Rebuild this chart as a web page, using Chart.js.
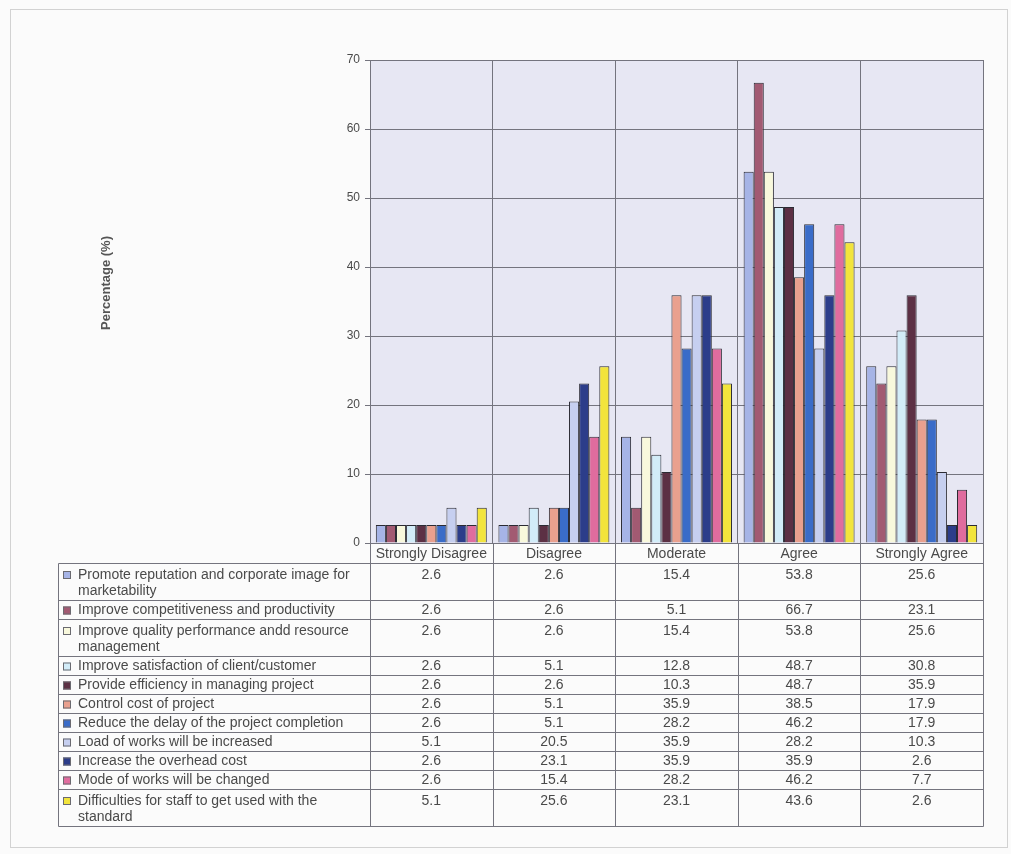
<!DOCTYPE html>
<html>
<head>
<meta charset="utf-8">
<script src="https://cdn.jsdelivr.net/npm/chart.js@4/dist/chart.umd.min.js"></script>
<style>
  html, body { margin: 0; padding: 0; background: #fbfbfb; }
  canvas { display: block; }
</style>
</head>
<body>
<canvas id="c" width="1011" height="854"></canvas>
<script>
// Response categories (x axis / table columns)
const categories = ['Strongly Disagree', 'Disagree', 'Moderate', 'Agree', 'Strongly Agree'];

// Y axis tick range
const yMin = 0, yMax = 70, yStep = 10;

// Statement labels (table rows); "\n" marks the wrapped line
const statementLabels = [
  'Promote reputation and corporate image for\nmarketability',
  'Improve competitiveness and productivity',
  'Improve quality performance andd resource\nmanagement',
  'Improve satisfaction of client/customer',
  'Provide efficiency in managing project',
  'Control cost of project',
  'Reduce the delay of the project completion',
  'Load of works will be increased',
  'Increase the overhead cost',
  'Mode of works will be changed',
  'Difficulties for staff to get used with the\nstandard'
];

// Percentages per statement, in category order
const promoteReputation   = [2.6, 2.6, 15.4, 53.8, 25.6];
const improveCompetitive  = [2.6, 2.6, 5.1, 66.7, 23.1];
const improveQuality      = [2.6, 2.6, 15.4, 53.8, 25.6];
const improveSatisfaction = [2.6, 5.1, 12.8, 48.7, 30.8];
const provideEfficiency   = [2.6, 2.6, 10.3, 48.7, 35.9];
const controlCost         = [2.6, 5.1, 35.9, 38.5, 17.9];
const reduceDelay         = [2.6, 5.1, 28.2, 46.2, 17.9];
const loadIncreased       = [5.1, 20.5, 35.9, 28.2, 10.3];
const overheadCost        = [2.6, 23.1, 35.9, 35.9, 2.6];
const modeChanged         = [2.6, 15.4, 28.2, 46.2, 7.7];
const staffDifficulties   = [5.1, 25.6, 23.1, 43.6, 2.6];

const seriesValues = [
  promoteReputation, improveCompetitive, improveQuality, improveSatisfaction,
  provideEfficiency, controlCost, reduceDelay, loadIncreased,
  overheadCost, modeChanged, staffDifficulties
];

const seriesColors = [
  '#a6b4e6', '#a25a72', '#f8f8dc', '#d2ecf8', '#5c3044', '#e9a08e',
  '#3a6cc8', '#c6cff0', '#2c3d8a', '#e06c9e', '#f2e43c'
];

const FONT = "Arial, 'Liberation Sans', sans-serif";
const TEXT = '#4a4a4a';
const GRID = '#74747e';

// Table geometry
const tableLeft = 58;
const rowSingle = 19, rowDouble = 37;

const plotBackground = {
  id: 'plotBackground',
  beforeDraw(chart) {
    const { ctx, chartArea: a } = chart;
    ctx.save();
    // outer frame
    ctx.strokeStyle = '#d2d2d2';
    ctx.lineWidth = 1;
    ctx.strokeRect(10.5, 9.5, 997, 838);
    ctx.fillStyle = '#e7e7f3';
    ctx.fillRect(a.left, a.top, a.right - a.left, a.bottom - a.top);
    ctx.restore();
  },
  afterDraw(chart) {
    const { ctx, chartArea: a } = chart;
    const x = chart.scales.x;
    const colW = (a.right - a.left) / categories.length;
    const headTop = a.bottom;
    const headBottom = x.bottom;
    ctx.save();
    ctx.strokeStyle = GRID;
    ctx.lineWidth = 1;

    // row boundaries
    const rows = [];
    let y = headBottom;
    statementLabels.forEach(l => {
      const h = l.includes('\n') ? rowDouble : rowSingle;
      rows.push({ top: y, h, wrapped: l.includes('\n') });
      y += h;
    });
    const tableBottom = y;

    const line = (x1, y1, x2, y2) => {
      ctx.beginPath();
      ctx.moveTo(Math.round(x1) + 0.5, Math.round(y1) + 0.5);
      ctx.lineTo(Math.round(x2) + 0.5, Math.round(y2) + 0.5);
      ctx.stroke();
    };

    // header and table borders
    line(tableLeft, headBottom, a.right, headBottom);
    for (let i = 0; i <= categories.length; i++) {
      const cx = a.left + i * colW;
      line(cx, headTop, cx, tableBottom);
    }
    line(tableLeft, headBottom, tableLeft, tableBottom);
    rows.forEach(r => line(tableLeft, r.top + r.h, a.right, r.top + r.h));

    // row labels, swatches and values
    ctx.font = '14px ' + FONT;
    ctx.textBaseline = 'middle';
    rows.forEach((r, i) => {
      const lines = statementLabels[i].split('\n');
      const y0 = r.top + (r.wrapped ? 12 : 10.5);
      ctx.fillStyle = seriesColors[i];
      ctx.fillRect(tableLeft + 5, y0 - 4, 8, 8);
      ctx.strokeStyle = '#6a6a70';
      ctx.strokeRect(tableLeft + 5.5, y0 - 3.5, 7, 7);
      ctx.fillStyle = TEXT;
      ctx.textAlign = 'left';
      lines.forEach((t, k) => ctx.fillText(t, tableLeft + 20, y0 + k * 16.5));
      ctx.textAlign = 'center';
      seriesValues[i].forEach((v, j) => {
        ctx.fillText(v.toFixed(1), a.left + (j + 0.5) * colW, y0);
      });
    });

    // y axis title
    ctx.translate(106, 283);
    ctx.rotate(-Math.PI / 2);
    ctx.font = 'bold 13px ' + FONT;
    ctx.fillStyle = '#555';
    ctx.textAlign = 'center';
    ctx.fillText('Percentage (%)', 0, 0);
    ctx.restore();
  }
};

new Chart(document.getElementById('c'), {
  type: 'bar',
  data: {
    labels: categories,
    datasets: seriesValues.map((vals, i) => ({
      label: statementLabels[i].replace('\n', ' '),
      data: vals,
      backgroundColor: seriesColors[i],
      borderColor: '#2b2b33',
      borderWidth: 1,
      categoryPercentage: 0.905,
      barPercentage: 1.0
    }))
  },
  options: {
    responsive: false,
    animation: false,
    layout: { padding: { left: 340, top: 60, right: 28, bottom: 291 } },
    plugins: { legend: { display: false }, tooltip: { enabled: false } },
    scales: {
      x: {
        grid: { offset: true, color: GRID, drawTicks: false },
        border: { color: GRID },
        ticks: { color: TEXT, font: { family: FONT, size: 14 }, padding: 3 },
        afterFit(s) { s.height = 20; }
      },
      y: {
        min: yMin, max: yMax,
        grid: { color: GRID, tickLength: 5 },
        border: { color: GRID },
        ticks: { stepSize: yStep, color: TEXT, font: { family: FONT, size: 12 }, padding: 5 },
        afterFit(s) { s.width = 30; }
      }
    }
  },
  plugins: [plotBackground]
});
</script>
</body>
</html>
